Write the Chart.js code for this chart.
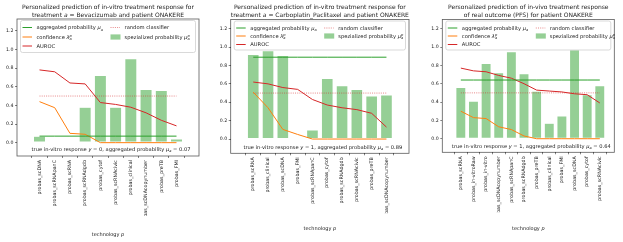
<!DOCTYPE html>
<html>
<head>
<meta charset="utf-8">
<script src="https://cdn.jsdelivr.net/npm/chart.js@4.4.1/dist/chart.umd.min.js"></script>
<style>
  html, body { margin: 0; padding: 0; background: #fff; }
  #wrap { position: relative; width: 623px; height: 242px; }
  #wrap canvas { position: absolute; left: 0; top: 0; }
</style>
</head>
<body>
<div id="wrap">
  <canvas id="c1" width="623" height="242"></canvas>
  <canvas id="c2" width="623" height="242"></canvas>
  <canvas id="c3" width="623" height="242"></canvas>
</div>
<script>
const FONT = '"DejaVu Sans", sans-serif';

const yTicks = [0, 0.2, 0.4, 0.6, 0.8, 1.0, 1.2];
const randomLevel = 0.5;

// panel 1: in-vitro, Bevacizumab
const labels1 = ['probas_scDNA', 'probas_scRNApanC', 'probas_scRNA', 'probas_scRNAdgdb', 'probas_cytof',
  'probas_scRNAcivic', 'probas_clinical', 'probas_scDNAcopynumber', 'probas_preTB', 'probas_FMI'];
const spec1 = [0.07, 0.01, 0, 0.38, 0.72, 0.38, 0.90, 0.57, 0.56, 0.04];
const conf1 = [0.44, 0.375, 0.10, 0.09, 0, 0, 0, 0, 0, 0];
const auroc1 = [0.78, 0.76, 0.64, 0.63, 0.43, 0.41, 0.38, 0.32, 0.24, 0.18];
const agg1 = 0.07;
const truth1 = 0;

// panel 2: in-vitro, Carboplatin_Paclitaxel
const labels2 = ['probas_scRNA', 'probas_clinical', 'probas_scDNA', 'probas_FMI', 'probas_scRNApanC',
  'probas_cytof', 'probas_scRNAdgdb', 'probas_scRNAcivic', 'probas_preTB', 'probas_scDNAcopynumber'];
const spec2 = [0.92, 0.96, 0.91, 0.01, 0.10, 0.66, 0.58, 0.54, 0.47, 0.48];
const conf2 = [0.51, 0.34, 0.105, 0.05, 0, 0, 0, 0, 0, 0];
const auroc2 = [0.62, 0.60, 0.56, 0.54, 0.43, 0.37, 0.34, 0.32, 0.28, 0.13];
const agg2 = 0.89;
const truth2 = 1;

// panel 3: in-vivo (PFS)
const labels3 = ['probas_scRNA', 'probas_in-vitroRaw', 'probas_in-vitro', 'probas_scDNAcopynumber',
  'probas_scRNApanC', 'probas_scRNAdgdb', 'probas_preTB', 'probas_clinical', 'probas_FMI',
  'probas_scDNA', 'probas_cytof', 'probas_scRNAcivic'];
const spec3 = [0.56, 0.41, 0.82, 0.72, 0.95, 0.71, 0.52, 0.17, 0.25, 0.97, 0.48, 0.58];
const conf3 = [0.30, 0.23, 0.22, 0.13, 0.10, 0.03, 0, 0, 0, 0, 0, 0];
const auroc3 = [0.77, 0.74, 0.73, 0.69, 0.66, 0.60, 0.53, 0.52, 0.51, 0.49, 0.48, 0.39];
const agg3 = 0.64;
const truth3 = 1;

const GREEN = '#2ca02c';
const BAR = 'rgba(44,160,44,0.5)';
const ORANGE = '#ff7f0e';
const RED = '#d62728';
const RED_DOT = 'rgba(214,39,40,0.55)';
const INK = '#222';

// font sizes (px)
const FS_TITLE = 6.0, FS_LEG = 5.2, FS_NOTE = 5.15, FS_TICK = 4.8, FS_YTICK = 4.7, FS_XLAB = 5.0;

function pts(arr) { return arr.map((v, i) => ({x: i, y: v})); }
function flat(v, n) { return Array.from({length: n}, (_, i) => ({x: i, y: v})); }

// tiny mathtext-ish rich text
function partFont(s, it) { return (it ? 'italic ' : '') + s + 'px ' + FONT; }
function partW(ctx, p, s) {
  if (typeof p === 'string') { ctx.font = partFont(s); return ctx.measureText(p).width; }
  if (p.i) { ctx.font = partFont(s, true); return ctx.measureText(p.i).width; }
  ctx.font = partFont(s * 0.7, true);
  return Math.max(p.sub ? ctx.measureText(p.sub).width : 0, p.sup ? ctx.measureText(p.sup).width : 0);
}
function drawRich(ctx, parts, x, y, s, align) {
  const w = parts.reduce((a, p) => a + partW(ctx, p, s), 0);
  let cx = align === 'center' ? x - w / 2 : x;
  ctx.textAlign = 'left';
  ctx.textBaseline = 'alphabetic';
  for (const p of parts) {
    const pw = partW(ctx, p, s);
    if (typeof p === 'string') { ctx.font = partFont(s); ctx.fillText(p, cx, y); }
    else if (p.i) { ctx.font = partFont(s, true); ctx.fillText(p.i, cx, y); }
    else {
      ctx.font = partFont(s * 0.7, true);
      if (p.sub) ctx.fillText(p.sub, cx, y + s * 0.22);
      if (p.sup) ctx.fillText(p.sup, cx, y - s * 0.42);
    }
    cx += pw;
  }
}

const legendCol1 = [
  {kind: 'line', color: GREEN, text: ['aggregated probability ', {i: 'μ'}, {sub: 'a'}]},
  {kind: 'line', color: ORANGE, text: ['confidence ', {i: 'λ'}, {sub: 'a', sup: 'p'}]},
  {kind: 'line', color: RED, text: ['AUROC']}
];
const legendCol2 = [
  {kind: 'dot', color: RED_DOT, text: ['random classifier']},
  {kind: 'bar', color: BAR, text: ['spezialized probability ', {i: 'μ'}, {sub: 'a', sup: 'p'}]}
];

function decor(cfg) {
  return {
    id: 'decor' + cfg.id,
    afterDraw(chart) {
      const ctx = chart.ctx;
      const a = chart.chartArea;
      ctx.save();
      // frame
      ctx.strokeStyle = 'rgba(0,0,0,0.65)';
      ctx.lineWidth = 0.8;
      ctx.strokeRect(a.left, a.top, a.right - a.left, a.bottom - a.top);
      ctx.fillStyle = INK;
      // title
      const cx = (a.left + a.right) / 2;
      drawRich(ctx, cfg.title[0], cx, cfg.titleY[0], FS_TITLE, 'center');
      drawRich(ctx, cfg.title[1], cx, cfg.titleY[1], FS_TITLE, 'center');
      // note at bottom of axes
      drawRich(ctx, ['true in-vitro response ', {i: 'y'}, ' = ' + cfg.truth + ', aggregated probability ',
        {i: 'μ'}, {sub: 'a'}, ' = ' + cfg.agg.toFixed(2)], cx + 3, a.bottom - 4.8, FS_NOTE, 'center');
      // x label
      drawRich(ctx, ['technology ', {i: 'p'}], cx, cfg.xlabelY, FS_XLAB, 'center');
      // legend
      const lx = a.left + 3.5, ly = a.top + 1.5;
      const lw = a.right - a.left - 7, lh = cfg.legH;
      ctx.beginPath();
      ctx.roundRect(lx, ly, lw, lh, 2);
      ctx.fillStyle = 'rgba(255,255,255,0.8)';
      ctx.fill();
      ctx.strokeStyle = '#cfcfcf';
      ctx.lineWidth = 0.8;
      ctx.stroke();
      const rows = cfg.rows;
      const cols = [[legendCol1, lx + 2], [legendCol2, lx + 90]];
      for (const [items, hx] of cols) {
        items.forEach((it, k) => {
          const yc = ly + rows[k];
          if (it.kind === 'bar') {
            ctx.fillStyle = it.color;
            ctx.fillRect(hx, yc - 2.6, 10, 5.2);
          } else {
            ctx.beginPath();
            ctx.strokeStyle = it.color;
            ctx.lineWidth = 1;
            ctx.setLineDash(it.kind === 'dot' ? [1, 1.2] : []);
            ctx.moveTo(hx, yc);
            ctx.lineTo(hx + 9.5, yc);
            ctx.stroke();
            ctx.setLineDash([]);
          }
          ctx.fillStyle = INK;
          drawRich(ctx, it.text, hx + 14, yc + FS_LEG * 0.36, FS_LEG, 'left');
        });
      }
      ctx.restore();
    }
  };
}

function makeChart(cfg) {
  const n = cfg.labels.length;
  const YW = 14, XH = 60;
  return new Chart(document.getElementById(cfg.id), {
    type: 'bar',
    data: {
      datasets: [
        {type: 'line', label: 'aggregated', data: flat(cfg.agg, n), borderColor: GREEN, borderWidth: 1,
          pointRadius: 0, order: 1},
        {type: 'line', label: 'confidence', data: pts(cfg.conf), borderColor: ORANGE, borderWidth: 1,
          pointRadius: 0, order: 2},
        {type: 'line', label: 'AUROC', data: pts(cfg.auroc), borderColor: RED, borderWidth: 1,
          pointRadius: 0, order: 3},
        {type: 'line', label: 'random', data: flat(randomLevel, n), borderColor: RED_DOT, borderWidth: 1,
          borderDash: [1, 1.2], pointRadius: 0, order: 4},
        {type: 'bar', label: 'spezialized', data: pts(cfg.spec), backgroundColor: BAR,
          borderColor: '#fff', borderWidth: 0.6, borderSkipped: false,
          barPercentage: 0.8, categoryPercentage: 1, order: 10}
      ]
    },
    options: {
      responsive: false,
      animation: false,
      events: [],
      layout: {padding: {left: cfg.L - YW, right: 623 - cfg.R, top: cfg.T, bottom: 242 - cfg.B - XH}},
      plugins: {legend: {display: false}, tooltip: {enabled: false}, title: {display: false}},
      scales: {
        x: {
          type: 'linear', min: cfg.xmin, max: cfg.xmax,
          afterBuildTicks: s => { s.ticks = cfg.labels.map((_, i) => ({value: i})); },
          afterFit: s => { s.height = XH; },
          grid: {drawOnChartArea: false, tickLength: 2, tickColor: '#333', tickWidth: 0.6},
          border: {display: false},
          ticks: {autoSkip: false, minRotation: 90, maxRotation: 90, padding: 2, color: INK,
            font: {family: FONT, size: FS_TICK}, callback: v => cfg.labels[v]}
        },
        y: {
          min: cfg.ymin, max: cfg.ymax,
          afterBuildTicks: s => { s.ticks = yTicks.map(v => ({value: v})); },
          afterFit: s => { s.width = YW; },
          grid: {drawOnChartArea: false, tickLength: 2, tickColor: '#333', tickWidth: 0.6},
          border: {display: false},
          ticks: {padding: 1.5, color: INK, font: {family: FONT, size: FS_YTICK}, callback: v => v.toFixed(1)}
        }
      }
    },
    plugins: [decor(cfg)]
  });
}

makeChart({id: 'c1', labels: labels1, spec: spec1, conf: conf1, auroc: auroc1, agg: agg1, truth: truth1,
  L: 17, R: 199, T: 19, B: 156, xmin: -0.88, xmax: 9.88, ymin: -0.143, ymax: 1.326,
  title: [['Personalized prediction of in-vitro treatment response for'],
          ['treatment ', {i: 'a'}, ' = Bevacizumab and patient ONAKERE']],
  titleY: [8.8, 17.2], xlabelY: 236, legH: 32, rows: [7, 16.5, 25.5]});

makeChart({id: 'c2', labels: labels2, spec: spec2, conf: conf2, auroc: auroc2, agg: agg2, truth: truth2,
  L: 230.7, R: 409, T: 19.5, B: 153.3, xmin: -0.92, xmax: 9.92, ymin: -0.155, ymax: 1.30,
  title: [['Personalized prediction of in-vitro treatment response for'],
          ['treatment ', {i: 'a'}, ' = Carboplatin_Paclitaxel and patient ONAKERE']],
  titleY: [8.6, 17], xlabelY: 230, legH: 29, rows: [7, 15, 23.5]});

makeChart({id: 'c3', labels: labels3, spec: spec3, conf: conf3, auroc: auroc3, agg: agg3, truth: truth3,
  L: 442.3, R: 614.3, T: 19.5, B: 152.3, xmin: -0.9, xmax: 11.58, ymin: -0.148, ymax: 1.30,
  title: [['Personalized prediction of in-vivo treatment response'],
          ['of real outcome (PFS) for patient ONAKERE']],
  titleY: [8.6, 17], xlabelY: 229.5, legH: 29, rows: [7, 15, 23.5]});
</script>
</body>
</html>
